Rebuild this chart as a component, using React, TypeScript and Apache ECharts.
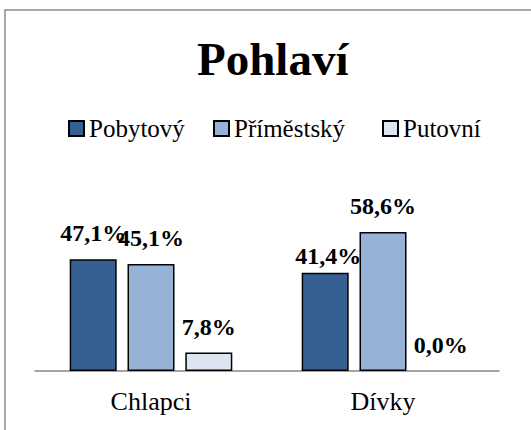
import React, { useEffect, useRef } from "react";
import * as echarts from "echarts";

const categories = ["Chlapci", "Dívky"];
const seriesNames = ["Pobytový", "Příměstský", "Putovní"];
const pobytovy = [47.1, 41.4];
const primestsky = [45.1, 58.6];
const putovni = [7.8, 0.0];
const colors = ["#376092", "#95B3D7", "#DCE6F2"];
const titleText = "Pohlaví";

const FONT = "Liberation Serif";
const legendLefts = [68, 213, 382];

export default function App() {
  const ref = useRef<HTMLDivElement>(null);
  useEffect(() => {
    if (!ref.current) return;
    const chart = echarts.init(ref.current, null, { renderer: "svg" });
    const data = [pobytovy, primestsky, putovni];
    chart.setOption({
      animation: false,
      backgroundColor: "#ffffff",
      textStyle: { fontFamily: FONT },
      title: {
        text: titleText,
        left: 192,
        top: 30,
        textStyle: { fontFamily: FONT, fontSize: 47, fontWeight: "bold", color: "#000" },
      },
      legend: seriesNames.map((name, i) => ({
        top: 116,
        left: legendLefts[i],
        itemWidth: 15,
        itemHeight: 15,
        icon: "rect",
        padding: 0,
        textStyle: { fontFamily: FONT, fontSize: 25, color: "#000", padding: [0, 0, 0, 0] },
        data: [name],
      })),
      graphic: [
        {
          type: "rect",
          shape: { x: 5, y: 10, width: 560, height: 460 },
          style: { fill: "none", stroke: "#8c8c8c", lineWidth: 1.5 },
          silent: true,
        },
      ],
      grid: { left: 35, right: 32, top: 205, bottom: 59, containLabel: false },
      xAxis: {
        type: "category",
        data: categories,
        axisLine: { show: true, lineStyle: { color: "#868686", width: 1.5 } },
        axisTick: { show: false },
        axisLabel: { fontFamily: FONT, fontSize: 26, color: "#000", margin: 17 },
      },
      yAxis: {
        type: "value",
        min: 0,
        max: 70,
        show: false,
        splitLine: { show: false },
      },
      series: seriesNames.map((name, i) => ({
        name,
        type: "bar",
        data: data[i].map((v, j) => {
          const item: any = { value: v };
          if (v === 0) item.itemStyle = { borderWidth: 0 };
          if (i === 0 && j === 1) item.label = { offset: [3, 9] };
          return item;
        }),
        barWidth: 47,
        barGap: "23%",
        itemStyle: { color: colors[i], borderColor: "#000", borderWidth: 1.5 },
        label: {
          show: true,
          position: "top",
          distance: 14,
          fontFamily: FONT,
          fontSize: 24,
          fontWeight: "bold",
          color: "#000",
          formatter: (p: any) => Number(p.value).toFixed(1).replace(".", ",") + "%",
        },
      })),
    });
    return () => chart.dispose();
  }, []);
  return (
    <div
      ref={ref}
      style={{ position: "fixed", left: 0, top: 0, width: 531, height: 430 }}
    />
  );
}
